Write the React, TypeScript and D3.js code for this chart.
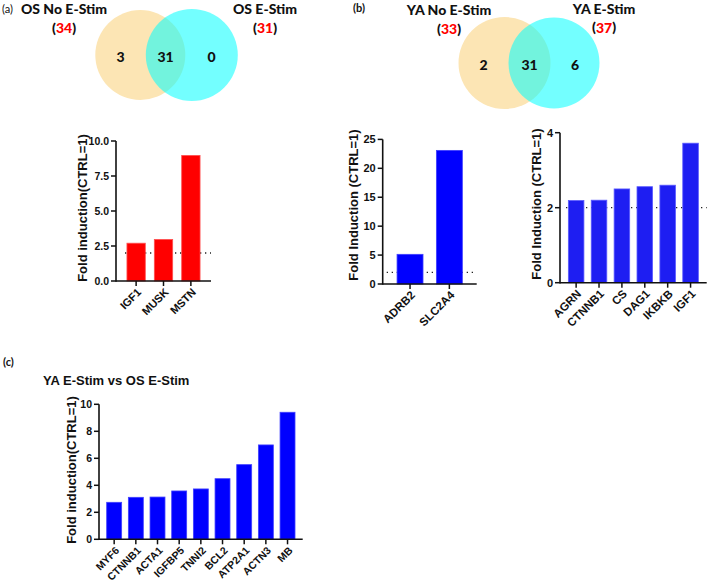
import React from "react";
import * as d3 from "d3";

// ---------- data ----------
const vennALabels = ["OS No E-Stim", "OS E-Stim"];
const vennATotals = [34, 31];
const vennACounts = [3, 31, 0];

const vennBLabels = ["YA No E-Stim", "YA E-Stim"];
const vennBTotals = [33, 37];
const vennBCounts = [2, 31, 6];

const panelAGenes = ["IGF1", "MUSK", "MSTN"];
const panelAValues = [2.7, 2.97, 8.97];
const panelATicks = [0, 2.5, 5, 7.5, 10];

const panelB1Genes = ["ADRB2", "SLC2A4"];
const panelB1Values = [5.13, 23.1];
const panelB1Ticks = [0, 5, 10, 15, 20, 25];

const panelB2Genes = ["AGRN", "CTNNB1", "CS", "DAG1", "IKBKB", "IGF1"];
const panelB2Values = [2.19, 2.2, 2.5, 2.56, 2.6, 3.72];
const panelB2Ticks = [0, 2, 4];

const panelCGenes = ["MYF6", "CTNNB1", "ACTA1", "IGFBP5", "TNNI2", "BCL2", "ATP2A1", "ACTN3", "MB"];
const panelCValues = [2.74, 3.11, 3.13, 3.58, 3.73, 4.49, 5.53, 6.99, 9.41];
const panelCTicks = [0, 2, 4, 6, 8, 10];

const threshold = 2;

const ARIAL = "'Liberation Sans', Arial, sans-serif";
const CAL = "Lato, 'Open Sans', sans-serif";

type VennProps = {
  labels: string[];
  totals: number[];
  counts: number[];
  c1: [number, number, number];
  c2: [number, number, number];
  t1: [number, number];
  t2: [number, number];
};

function Venn({ labels, totals, counts, c1, c2, t1, t2 }: VennProps) {
  const ny = (c1[1] + c2[1]) / 2 + 1;
  const leftX = (c1[0] - c1[2] + (c2[0] - c2[2])) / 2;
  const rightX = (c1[0] + c1[2] + (c2[0] + c2[2])) / 2;
  const ovX = (c2[0] - c2[2] + c1[0] + c1[2]) / 2;
  return (
    <g>
      <circle cx={c1[0]} cy={c1[1]} r={c1[2]} fill="#FCE5B4" />
      <circle cx={c2[0]} cy={c2[1]} r={c2[2]} fill="#00FFFF" fillOpacity={0.55} />
      {[leftX, ovX, rightX].map((x, i) => (
        <text key={i} x={x} y={ny} textAnchor="middle" dominantBaseline="central"
          fontFamily={CAL} fontWeight={900} fontSize={14} fill="#111">
          {counts[i]}
        </text>
      ))}
      {[t1, t2].map((t, i) => (
        <g key={i}>
          <text x={t[0]} y={t[1]} textAnchor="middle" dominantBaseline="central"
            fontFamily={CAL} fontWeight={900} fontSize={14} fill="#111">
            {labels[i]}
          </text>
          <text x={t[0]} y={t[1] + 18.5} textAnchor="middle" dominantBaseline="central"
            fontFamily={CAL} fontWeight={900} fontSize={14} fill="#111">
            (<tspan fill="#FF0000">{totals[i]}</tspan>)
          </text>
        </g>
      ))}
    </g>
  );
}

type BarProps = {
  genes: string[];
  values: number[];
  ticks: number[];
  fmt: (v: number) => string;
  x0: number;
  x1: number;
  y0: number;
  yTop: number;
  yMax: number;
  pInner: number;
  pOuter: number;
  color: string;
  edge: string;
  label: string;
  labelX: number;
  labelY: number;
  labelSize: number;
  tickSize: number;
  xSize: number;
  dotStart: number | null;
};

function BarPanel(p: BarProps) {
  const x = d3.scaleBand<string>().domain(p.genes).range([p.x0, p.x1]).paddingInner(p.pInner).paddingOuter(p.pOuter);
  const y = d3.scaleLinear().domain([0, p.yMax]).range([p.y0, p.yTop]);
  const bw = x.bandwidth();
  return (
    <g>
      {p.dotStart !== null && (
        <line x1={p.dotStart} x2={p.x1} y1={y(threshold)} y2={y(threshold)} stroke="#222"
          strokeWidth={1.3} strokeDasharray="1.3,3.7" />
      )}
      {p.genes.map((g, i) => (
        <rect key={g} x={x(g)!} y={y(p.values[i])} width={bw} height={p.y0 - y(p.values[i])}
          fill={p.color} stroke={p.edge} strokeWidth={0.8} />
      ))}
      {/* y axis */}
      <line x1={p.x0} x2={p.x0} y1={p.y0 + 0.75} y2={y(p.yMax)} stroke="#111" strokeWidth={1.6} />
      {p.ticks.map((t) => (
        <g key={t}>
          <line x1={p.x0 - 5} x2={p.x0} y1={y(t)} y2={y(t)} stroke="#111" strokeWidth={1.5} />
          <text x={p.x0 - 7} y={y(t)} textAnchor="end" dominantBaseline="central"
            fontFamily={ARIAL} fontWeight={700} fontSize={p.tickSize} fill="#111">
            {p.fmt(t)}
          </text>
        </g>
      ))}
      {/* x axis */}
      <line x1={p.x0} x2={p.x1} y1={p.y0} y2={p.y0} stroke="#111" strokeWidth={1.6} />
      {p.genes.map((g) => {
        const cx = x(g)! + bw / 2;
        return (
          <g key={g}>
            <line x1={cx} x2={cx} y1={p.y0} y2={p.y0 + 5} stroke="#111" strokeWidth={1.5} />
            <text transform={`translate(${cx + 3},${p.y0 + 9}) rotate(-45)`} textAnchor="end"
              dominantBaseline="central" fontFamily={ARIAL} fontWeight={700} fontSize={p.xSize} fill="#111">
              {g}
            </text>
          </g>
        );
      })}
      <text transform={`translate(${p.labelX},${p.labelY}) rotate(-90)`} textAnchor="middle"
        dominantBaseline="central" fontFamily={ARIAL} fontWeight={700} fontSize={p.labelSize} fill="#111">
        {p.label}
      </text>
    </g>
  );
}

export default function App() {
  const f1 = d3.format(".1f");
  const f0 = d3.format("d");
  return (
    <svg width={709} height={584} style={{ position: "absolute", left: 0, top: 0, background: "#fff" }}
      xmlns="http://www.w3.org/2000/svg">
      <rect width={709} height={584} fill="#fff" />
      <text x={2} y={8} dominantBaseline="central" fontFamily={CAL} fontSize={11} fill="#111">(a)</text>
      <text x={353} y={7} dominantBaseline="central" fontFamily={CAL} fontWeight={700} fontSize={11} fill="#111">(b)</text>
      <text x={3} y={361} dominantBaseline="central" fontFamily={CAL} fontWeight={700} fontSize={11} fill="#111">(c)</text>

      <Venn labels={vennALabels} totals={vennATotals} counts={vennACounts}
        c1={[140.3, 55, 45]} c2={[191.8, 55, 46]} t1={[64, 8.5]} t2={[265, 8.5]} />
      <Venn labels={vennBLabels} totals={vennBTotals} counts={vennBCounts}
        c1={[504.5, 63, 46]} c2={[554, 63, 45.5]} t1={[449, 9.5]} t2={[604, 8]} />

      <BarPanel genes={panelAGenes} values={panelAValues} ticks={panelATicks} fmt={f1}
        x0={116} x1={211} y0={281} yTop={141} yMax={10} pInner={0.33} pOuter={0.4}
        color="#FF0000" edge="#FF5050" label="Fold induction(CTRL=1)" labelX={82} labelY={208}
        labelSize={13} tickSize={10.5} xSize={11} dotStart={125} />

      <BarPanel genes={panelB1Genes} values={panelB1Values} ticks={panelB1Ticks} fmt={f0}
        x0={382.7} x1={476.7} y0={284} yTop={139.4} yMax={25} pInner={0.34} pOuter={0.365}
        color="#0000FF" edge="#4040FF" label="Fold Induction (CTRL=1)" labelX={353} labelY={205}
        labelSize={13} tickSize={11} xSize={11.5} dotStart={386.7} />

      <BarPanel genes={panelB2Genes} values={panelB2Values} ticks={panelB2Ticks} fmt={f0}
        x0={560} x1={706.7} y0={282.7} yTop={132.7} yMax={4} pInner={0.32} pOuter={0.365}
        color="#1E1EF2" edge="#5A5AFF" label="Fold Induction (CTRL=1)" labelX={536.7} labelY={204}
        labelSize={13} tickSize={11} xSize={11.5} dotStart={566} />

      <text x={43} y={380} dominantBaseline="central" fontFamily={ARIAL} fontWeight={700} fontSize={13} fill="#111">
        YA E-Stim vs OS E-Stim
      </text>
      <BarPanel genes={panelCGenes} values={panelCValues} ticks={panelCTicks} fmt={f0}
        x0={99} x1={302.7} y0={539.3} yTop={404.3} yMax={10} pInner={0.31} pOuter={0.355}
        color="#0000FF" edge="#4040FF" label="Fold induction(CTRL=1)" labelX={71.7} labelY={470}
        labelSize={13} tickSize={10.5} xSize={10.5} dotStart={null} />
    </svg>
  );
}
